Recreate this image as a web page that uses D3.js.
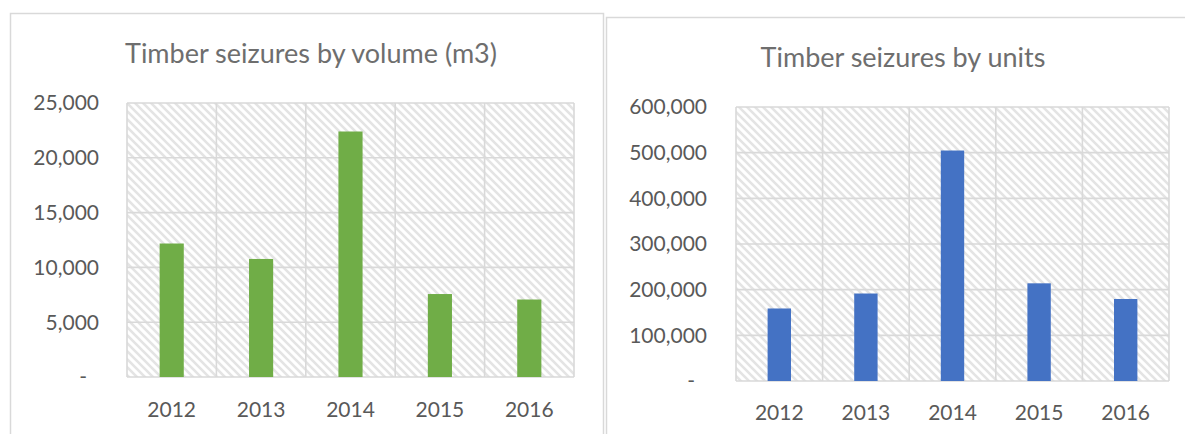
<!DOCTYPE html>
<html>
<head>
<meta charset="utf-8">
<script src="https://cdn.jsdelivr.net/npm/d3@7"></script>
<style>
  body { margin: 0; background: #fff; }
  svg { display: block; font-family: Lato, "Open Sans", sans-serif; }
</style>
</head>
<body>
<svg id="chart" width="1185" height="434"></svg>
<script>
// Values
const years = ["2012", "2013", "2014", "2015", "2016"];
const volumeM3 = [12180, 10770, 22400, 7570, 7070];
const unitsSeized = [158800, 191600, 504700, 213900, 179600];
const volumeTicks = [0, 5000, 10000, 15000, 20000, 25000];
const unitTicks = [0, 100000, 200000, 300000, 400000, 500000, 600000];

const svg = d3.select("#chart");

// diagonal hatch used as plot background
const defs = svg.append("defs");
const pat = defs.append("pattern")
    .attr("id", "hatch")
    .attr("patternUnits", "userSpaceOnUse")
    .attr("width", 8)
    .attr("height", 8);
pat.append("rect").attr("width", 8).attr("height", 8).attr("fill", "#fff");
pat.append("path")
    .attr("d", "M-2,6 L2,10 M0,0 L8,8 M6,-2 L10,2")
    .attr("stroke", "#e4e4e4")
    .attr("stroke-width", 2.6);

const fmt = d3.format(",");

function drawChart(opt) {
    // outer frame
    svg.append("rect")
        .attr("x", opt.frame[0] + 0.5)
        .attr("y", opt.frame[1] + 0.5)
        .attr("width", opt.frame[2])
        .attr("height", opt.frame[3])
        .attr("fill", "#fff")
        .attr("stroke", "#d9d9d9")
        .attr("stroke-width", 1.5);

    svg.append("text")
        .attr("x", opt.titleX)
        .attr("y", opt.titleY)
        .attr("text-anchor", "middle")
        .attr("font-size", 27)
        .attr("fill", "#6e6e6e")
        .text(opt.title);

    const m = opt.plot; // left, top, right, bottom
    const x = d3.scaleBand()
        .domain(years)
        .range([m.left, m.right]);
    const y = d3.scaleLinear()
        .domain([0, d3.max(opt.ticks)])
        .range([m.bottom, m.top]);

    const g = svg.append("g");

    g.append("rect")
        .attr("x", m.left)
        .attr("y", m.top)
        .attr("width", m.right - m.left)
        .attr("height", m.bottom - m.top)
        .attr("fill", "url(#hatch)");

    // horizontal grid
    g.selectAll(".hgrid")
        .data(opt.ticks)
        .enter()
        .append("line")
        .attr("x1", m.left)
        .attr("x2", m.right)
        .attr("y1", d => y(d))
        .attr("y2", d => y(d))
        .attr("stroke", "#d9d9d9")
        .attr("stroke-width", 1.6);

    // vertical grid at category edges
    const edges = years.map(d => x(d)).concat([m.right]);
    g.selectAll(".vgrid")
        .data(edges)
        .enter()
        .append("line")
        .attr("x1", d => d)
        .attr("x2", d => d)
        .attr("y1", m.top)
        .attr("y2", m.bottom)
        .attr("stroke", "#d9d9d9")
        .attr("stroke-width", 1.6);

    const bw = x.bandwidth() * 0.27;
    g.selectAll(".bar")
        .data(opt.values)
        .enter()
        .append("rect")
        .attr("x", (d, i) => x(years[i]) + (x.bandwidth() - bw) / 2)
        .attr("width", bw)
        .attr("y", d => y(d))
        .attr("height", d => y(0) - y(d))
        .attr("fill", opt.color);

    // y axis labels (accounting style, zero shown as dash)
    g.selectAll(".ylab")
        .data(opt.ticks)
        .enter()
        .append("text")
        .attr("x", d => d === 0 ? opt.labelX - 12 : opt.labelX)
        .attr("y", d => y(d))
        .attr("dy", "0.35em")
        .attr("text-anchor", "end")
        .attr("font-size", 21)
        .attr("fill", "#595959")
        .text(d => d === 0 ? "-" : fmt(d));

    g.selectAll(".xlab")
        .data(years)
        .enter()
        .append("text")
        .attr("x", d => x(d) + x.bandwidth() / 2)
        .attr("y", opt.xLabelY)
        .attr("text-anchor", "middle")
        .attr("font-size", 21)
        .attr("fill", "#595959")
        .text(d => d);
}

drawChart({
    frame: [10, 13, 593, 440],
    title: "Timber seizures by volume (m3)",
    titleX: 311, titleY: 63,
    plot: { left: 127, top: 103, right: 574, bottom: 377 },
    ticks: volumeTicks,
    values: volumeM3,
    color: "#70ad47",
    labelX: 99,
    xLabelY: 417
});

drawChart({
    frame: [606, 17, 600, 440],
    title: "Timber seizures by units",
    titleX: 903, titleY: 67,
    plot: { left: 736, top: 107, right: 1169, bottom: 381 },
    ticks: unitTicks,
    values: unitsSeized,
    color: "#4472c4",
    labelX: 707,
    xLabelY: 420
});
</script>
</body>
</html>
